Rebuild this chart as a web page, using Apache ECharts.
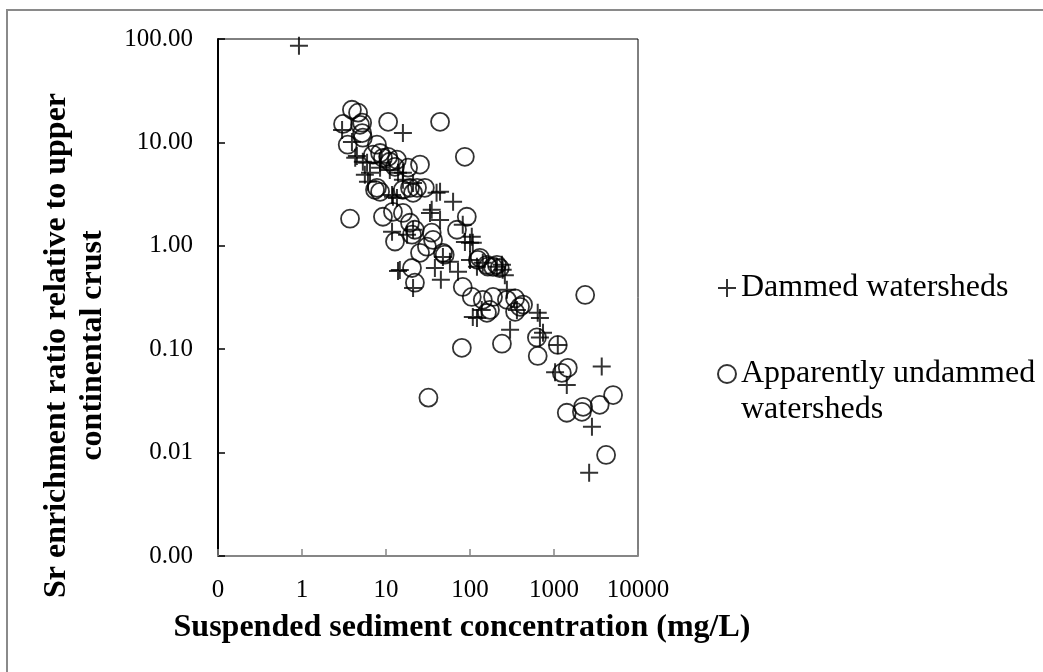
<!DOCTYPE html>
<html>
<head>
<meta charset="utf-8">
<script src="https://cdn.jsdelivr.net/npm/echarts@6/dist/echarts.min.js"></script>
<style>
  html, body { margin: 0; padding: 0; background: #fff; }
  #chart { width: 1043px; height: 672px; }
</style>
</head>
<body>
<div id="chart"></div>
<script>
// [suspended sediment mg/L, Sr enrichment ratio]
var dammed = [
    [0.92, 86], [3.0, 13.2], [3.93, 10.1], [4.3, 7.1], [4.5, 7.4], [5.3, 6.5],
    [5.95, 6.35], [6.45, 5.1], [5.6, 4.86], [6.1, 4.16], [8.5, 6.35], [8.5, 5.7],
    [11.1, 5.4], [13.9, 5.1], [15.9, 5.1], [15.9, 4.35], [21, 4.06], [15.9, 12.3],
    [11.8, 3.1], [13.5, 2.9], [12.1, 2.98], [44, 3.33], [40, 3.25], [62.9, 2.66],
    [35, 2.23], [33.4, 2.08], [44, 1.78], [11.8, 1.37], [17.8, 1.28], [21, 1.43],
    [47.6, 0.78], [82, 1.6], [87, 1.09], [105, 1.22], [108, 1.07], [13.9, 0.57],
    [21, 0.39], [38.2, 0.61], [45, 0.47], [57.7, 0.70], [72, 0.56], [100, 0.73],
    [121, 0.627], [142, 0.685], [209, 0.627], [245, 0.586], [260, 0.52], [108, 0.205],
    [138, 0.24], [121, 0.20], [362, 0.24], [300, 0.154], [275, 0.375], [640, 0.225],
    [680, 0.20], [740, 0.144], [680, 0.13], [1110, 0.11], [1030, 0.06], [1420, 0.045],
    [3700, 0.068], [2830, 0.0178], [2620, 0.0064], [240, 0.655], [100, 1.07], [14.6, 0.585]
];
var undammed = [
    [3.93, 20.7], [4.65, 19.4], [3.08, 15.1], [5.2, 15.5], [4.9, 14.8], [5.2, 12.3],
    [5.3, 11.1], [10.6, 15.8], [44, 15.8], [3.5, 9.5], [7.8, 9.5], [8.5, 7.9],
    [9.2, 7.1], [11.1, 6.5], [12.8, 5.8], [7.0, 7.6], [10.6, 7.25], [13.5, 6.8],
    [18.3, 5.7], [25.4, 6.1], [86.8, 7.25], [7.8, 3.64], [8.5, 3.33], [7.4, 3.48],
    [15.9, 3.48], [19.3, 3.64], [21, 3.25], [29, 3.64], [23.4, 3.64], [9.2, 1.91],
    [15.9, 2.08], [3.73, 1.83], [91.6, 1.91], [12.1, 2.13], [12.8, 1.1], [20.4, 1.28],
    [35, 1.34], [36.3, 1.14], [30.7, 0.98], [25.4, 0.855], [47.6, 0.855], [70, 1.43],
    [20.4, 0.61], [22.1, 0.44], [124, 0.73], [159, 0.655], [188, 0.627], [226, 0.61],
    [82, 0.40], [105, 0.32], [142, 0.30], [188, 0.32], [159, 0.225], [173, 0.24],
    [344, 0.31], [394, 0.257], [344, 0.23], [240, 0.113], [80, 0.103], [2350, 0.335],
    [626, 0.13], [640, 0.086], [1110, 0.11], [1460, 0.066], [1240, 0.059], [5050, 0.036],
    [3500, 0.029], [2220, 0.0277], [2150, 0.0248], [1420, 0.0243], [4170, 0.0095], [32, 0.034],
    [19.3, 1.67], [22, 1.43], [50, 0.82], [131, 0.765], [163, 0.63], [209, 0.655],
    [275, 0.30], [428, 0.27]
];
var seriesNames = ['Dammed watersheds', 'Apparently undammed watersheds'];
var xTitle = 'Suspended sediment concentration (mg/L)';
var yTitle = 'Sr enrichment ratio relative to upper\ncontinental crust';

var serif = '"Liberation Serif", "Times New Roman", serif';
var plusPath = 'path://M0,5L10,5M5,0L5,10';

var chart = echarts.init(document.getElementById('chart'));
var option = {
    backgroundColor: '#fff',
    animation: false,
    graphic: [{
        type: 'rect',
        shape: { x: 7, y: 10, width: 1200, height: 1000 },
        style: { fill: 'none', stroke: '#8a8a8a', lineWidth: 2 },
        silent: true
    }],
    grid: {
        left: 218, top: 39, width: 420, height: 517,
        outerBoundsMode: 'none',
        show: true, borderColor: '#000', borderWidth: 1
    },
    legend: {
        orient: 'vertical',
        left: 712,
        top: 265,
        itemWidth: 18,
        itemHeight: 18,
        itemGap: 14,
        textStyle: { fontFamily: serif, fontSize: 32, color: '#000', lineHeight: 36 },
        data: [
            { name: seriesNames[0], icon: plusPath },
            { name: seriesNames[1], icon: 'circle' }
        ],
        // blank first line keeps the circle level with "Apparently undammed"
        formatter: function (name) {
            return name === seriesNames[1] ? ' \nApparently undammed\nwatersheds' : name;
        }
    },
    xAxis: {
        type: 'log', logBase: 10, min: 0.1, max: 10000,
        name: xTitle, nameLocation: 'middle', nameGap: 56,
        nameTextStyle: {
            fontFamily: serif, fontSize: 32, fontWeight: 'bold', color: '#000',
            padding: [0, 0, 0, 68]
        },
        axisLine: { lineStyle: { color: '#868686', width: 2 } },
        axisTick: { inside: true, length: 7, lineStyle: { color: '#868686', width: 1.5 } },
        splitLine: { show: false },
        axisLabel: {
            fontFamily: serif, fontSize: 25, color: '#000', margin: 22,
            formatter: function (v) { return v < 1 ? '0' : String(Math.round(v)); }
        }
    },
    yAxis: {
        type: 'log', logBase: 10, min: 0.001, max: 100,
        name: yTitle, nameLocation: 'middle', nameGap: 107, nameRotate: 90,
        nameTextStyle: {
            fontFamily: serif, fontSize: 32, fontWeight: 'bold', color: '#000',
            lineHeight: 36, padding: [0, 96, 0, 0]
        },
        axisLine: { lineStyle: { color: '#000', width: 2 } },
        axisTick: { inside: true, length: 7, lineStyle: { color: '#000', width: 1.5 } },
        splitLine: { show: false },
        axisLabel: {
            fontFamily: serif, fontSize: 25, color: '#000', margin: 25,
            formatter: function (v) { return v.toFixed(2); }
        }
    },
    series: [{
        name: seriesNames[0],
        type: 'scatter',
        symbol: plusPath,
        symbolSize: 18,
        itemStyle: { color: 'transparent', borderColor: '#000', borderWidth: 2 },
        data: dammed
    }, {
        name: seriesNames[1],
        type: 'scatter',
        symbol: 'circle',
        symbolSize: 18,
        itemStyle: { color: 'transparent', borderColor: '#000', borderWidth: 1.8 },
        data: undammed
    }]
};
chart.setOption(option);
</script>
</body>
</html>
